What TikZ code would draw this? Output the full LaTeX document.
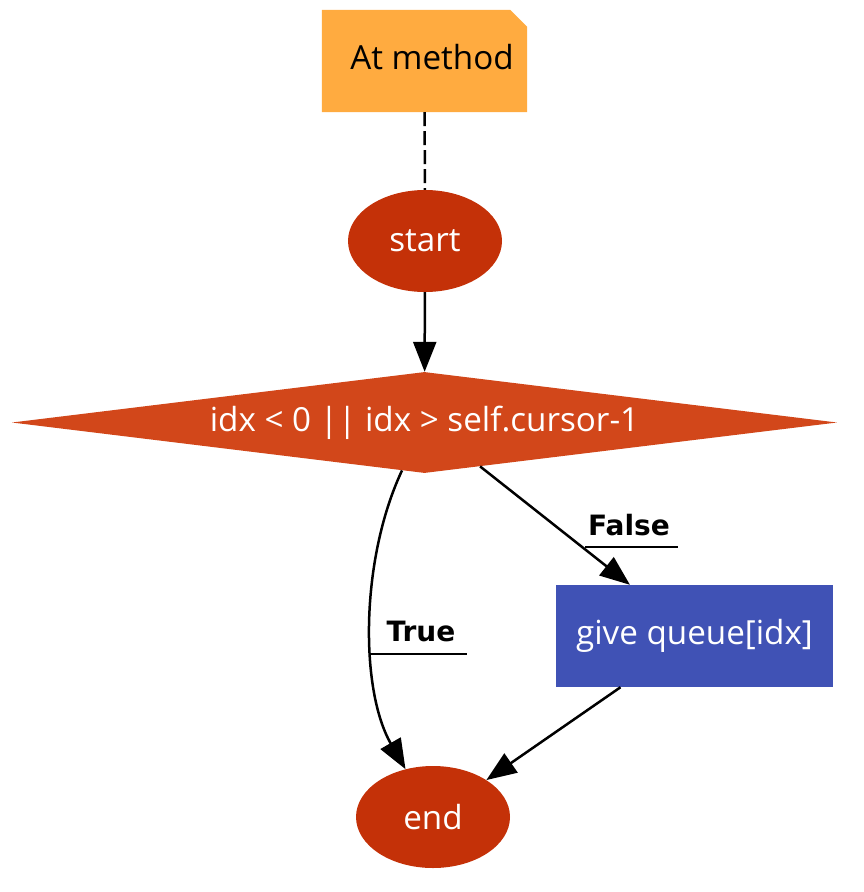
\documentclass[tikz,border=0pt]{standalone}
\usepackage{fontspec}
\setmainfont{Open Sans}
\newfontfamily\lblfont{DejaVu Sans}
\usetikzlibrary{shapes.geometric,arrows.meta}
\definecolor{noteor}{HTML}{FFAB40}
\definecolor{termred}{HTML}{C43108}
\definecolor{decor}{HTML}{D2471A}
\definecolor{actblue}{HTML}{4052B5}
\begin{document}
\begin{tikzpicture}[x=1pt,y=-1pt,
  every node/.style={font=\fontsize{33.2}{40}\selectfont},
  term/.style={ellipse, fill=termred, text=white, minimum width=154pt, minimum height=102pt, inner sep=0pt},
  decision/.style={diamond, fill=decor, text=white, aspect=8.17, minimum width=825pt, minimum height=101pt, inner sep=0pt},
  act/.style={rectangle, fill=actblue, text=white, minimum width=277pt, minimum height=102pt, inner sep=0pt},
  flow/.style={line width=2.5pt, -{Triangle[length=30pt,width=23pt]}},
  dashline/.style={line width=2.5pt, dash pattern=on 14pt off 5pt},
  lbl/.style={font=\lblfont\bfseries\fontsize{28}{34}\selectfont, inner sep=0pt},
  uline/.style={line width=2.5pt}]
\useasboundingbox (0,0) rectangle (864,892);
% note
\node[minimum width=205pt, minimum height=102pt, inner sep=0pt] (note) at (424.5,61) {};
\fill[noteor] (note.north west) -- ([xshift=-17pt]note.north east) -- ([yshift=-17pt]note.north east) -- (note.south east) -- (note.south west) -- cycle;
\node (notetxt) at (432,57) {At method};
% nodes
\node[term] (start) at (425,241) {start};
\node[decision] (dia) at (424.5,422.5) {idx < 0 || idx > self.cursor-1};
\node[act] (give) at (694.5,636) {give queue[idx]};
\node[term] (stop) at (433,817) {end};
% edges
\draw[dashline] (note) -- (start);
\draw[flow] (start) -- (dia);
\draw[flow] (dia) -- (give);
\draw[flow] (dia) .. controls (360,560) and (360,690) .. (stop);
\draw[flow] (give) -- (stop);
% labels
\node[lbl] (lf) at (629,525) {False};
\coordinate (uf1) at (585,547);
\coordinate (uf2) at (678,547);
\draw[uline] (uf1) -- (uf2);
\node[lbl] (lt) at (421,631) {True};
\coordinate (ut1) at (371,654);
\coordinate (ut2) at (467,654);
\draw[uline] (ut1) -- (ut2);
\end{tikzpicture}
\end{document}
